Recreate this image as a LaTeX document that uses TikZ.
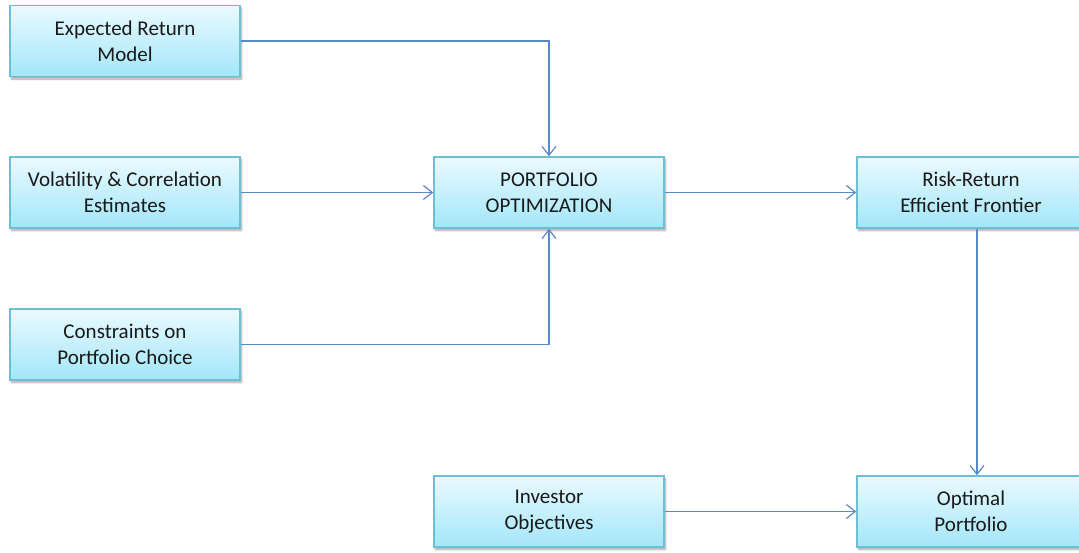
\documentclass[tikz,border=0pt]{standalone}
\usepackage{fontspec}
\setmainfont{Carlito}
\usetikzlibrary{arrows.meta,shadows.blur}
\definecolor{boxtop}{HTML}{EAFAFE}
\definecolor{boxbot}{HTML}{A3E6F9}
\definecolor{boxline}{HTML}{6DBFD6}
\definecolor{arrowc}{HTML}{5A89C6}
\definecolor{txt}{HTML}{1A1A1A}
\begin{document}
\begin{tikzpicture}[x=1pt,y=-1pt,
  boxnode/.style={rectangle, draw=boxline, line width=1.4pt, top color=boxtop, bottom color=boxbot,
    minimum width=230pt, minimum height=71pt, inner sep=0pt, align=center,
    font=\fontsize{21pt}{26pt}\selectfont, text=txt,
    blur shadow={shadow xshift=1.5pt, shadow yshift=-2.5pt, shadow blur steps=6, shadow opacity=35}},
  conn/.style={draw=arrowc, line width=1.2pt, -{Straight Barb[length=9pt,width=14pt,line width=1.2pt]}}]
\useasboundingbox (0,0) rectangle (1079,552);
\node[boxnode] (b1) at (125,41) {Expected Return\\Model};
\node[boxnode] (b2) at (125,192.5) {Volatility \& Correlation\\Estimates};
\node[boxnode] (b3) at (125,344.5) {Constraints on\\Portfolio Choice};
\node[boxnode] (b4) at (549,192.5) {PORTFOLIO\\OPTIMIZATION};
\node[boxnode, minimum width=228pt] (b5) at (971,192.5) {Risk-Return\\Efficient Frontier};
\node[boxnode] (b6) at (549,511.5) {Investor\\Objectives};
\node[boxnode, minimum width=228pt] (b7) at (971,511.5) {Optimal\\Portfolio};
\draw[conn] (b1.east) -| (b4.north);
\draw[conn] (b2.east) -- (b4.west);
\draw[conn] (b3.east) -| (b4.south);
\draw[conn] (b4.east) -- (b5.west);
\draw[conn] ([xshift=6pt]b5.south) -- ([xshift=6pt]b7.north);
\draw[conn] (b6.east) -- (b7.west);
\end{tikzpicture}
\end{document}
